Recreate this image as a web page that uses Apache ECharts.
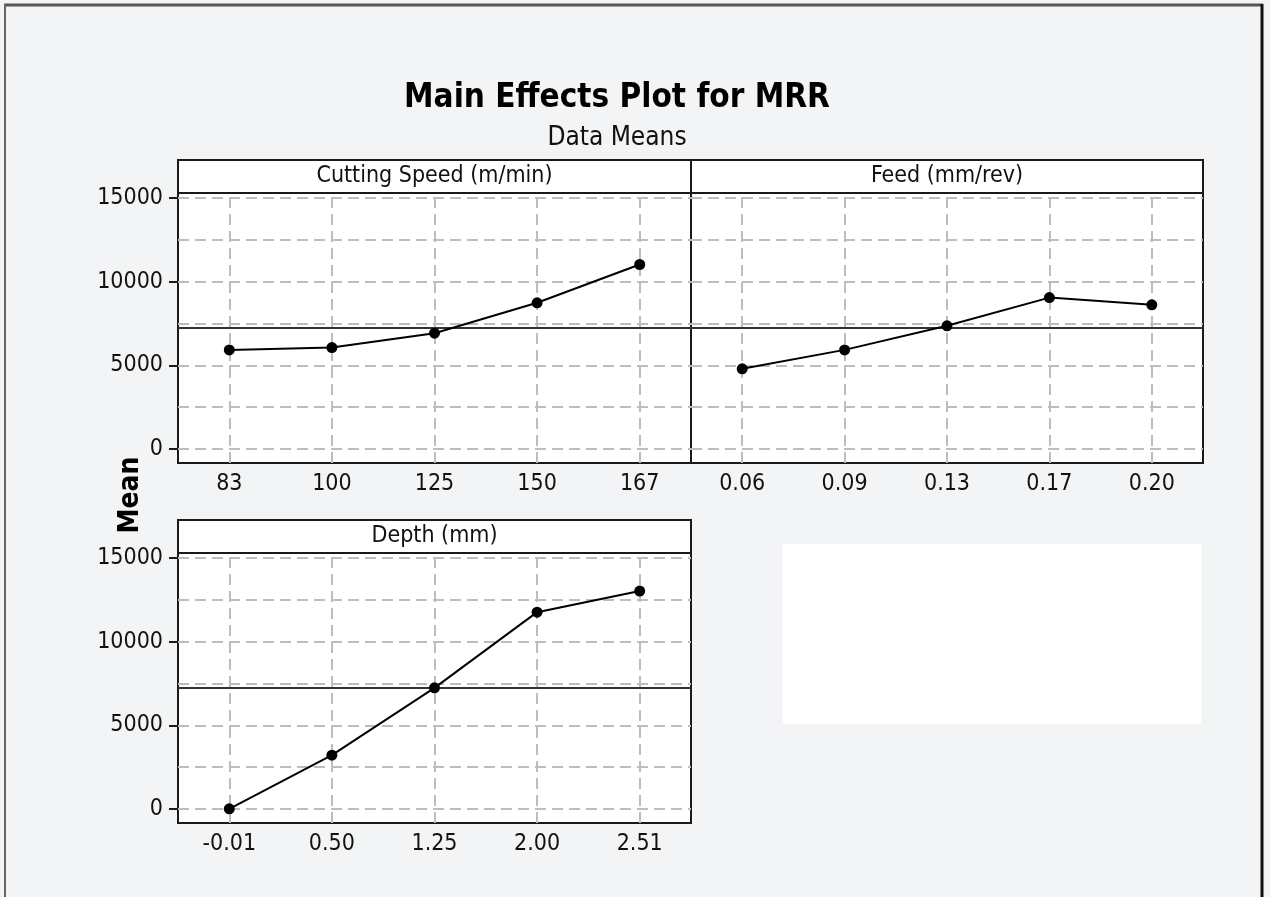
<!DOCTYPE html>
<html lang="en">
<head>
    <meta charset="UTF-8">
    <title>Main Effects Plot for MRR</title>
    <script src="https://cdn.jsdelivr.net/npm/echarts@6/dist/echarts.min.js"></script>
    <style>
      body { margin: 0; background: #f3f4f6; }
    </style>
</head>
<body>
    <div id="main" style="width: 1270px; height: 897px"></div>
    <script type="text/javascript">

      // factor levels (tick labels on each x axis)
      const speedLevels = ["83", "100", "125", "150", "167"];
      const feedLevels = ["0.06", "0.09", "0.13", "0.17", "0.20"];
      const depthLevels = ["-0.01", "0.50", "1.25", "2.00", "2.51"];

      // mean MRR at each level
      const speedMeans = [5920, 6060, 6920, 8740, 11030];
      const feedMeans = [4790, 5920, 7360, 9050, 8620];
      const depthMeans = [0, 3210, 7240, 11770, 13030];

      const grandMean = 7220;

      // y axis
      const yLabels = [0, 5000, 10000, 15000];
      const yGrid = [0, 2500, 5000, 7500, 10000, 12500, 15000];
      const yMin = -850, yMax = 15310;

      const font = "'DejaVu Sans Condensed', 'DejaVu Sans', sans-serif";

      const panels = [
        { name: "Cutting Speed (m/min)", levels: speedLevels, means: speedMeans, left: 178, top: 193, width: 513, showY: true },
        { name: "Feed (mm/rev)", levels: feedLevels, means: feedMeans, left: 691, top: 193, width: 512, showY: false },
        { name: "Depth (mm)", levels: depthLevels, means: depthMeans, left: 178, top: 553, width: 513, showY: true },
      ];
      const plotH = 270, headH = 33;

      let myChart = echarts.init(document.getElementById("main"));

      let grids = [], xAxes = [], yAxes = [], series = [], graphics = [];
      let titles = [{
        text: "Main Effects Plot for MRR",
        subtext: "Data Means",
        left: 617, top: 82, textAlign: "center", padding: 0, itemGap: 10,
        textStyle: { fontFamily: font, fontSize: 33, fontWeight: "bold", color: "#000" },
        subtextStyle: { fontFamily: font, fontSize: 26, color: "#111" },
      }];

      panels.forEach((p, i) => {
        grids.push({
          left: p.left, top: p.top, width: p.width, height: plotH,
          show: true, backgroundColor: "#fff", borderColor: "#1a1a1a", borderWidth: 2,
        });
        xAxes.push({
          type: "category", gridIndex: i, data: p.levels, boundaryGap: true,
          axisLine: { onZero: false, lineStyle: { color: "#1a1a1a", width: 2 } },
          axisTick: { alignWithLabel: true, length: 9, lineStyle: { color: "#1a1a1a", width: 2 } },
          axisLabel: { fontFamily: font, fontSize: 23, color: "#111", margin: 10 },
          splitLine: { show: false },
        });
        yAxes.push({
          type: "value", gridIndex: i, min: yMin, max: yMax,
          axisLine: { show: true, lineStyle: { color: "#1a1a1a", width: 2 } },
          axisTick: { show: p.showY, customValues: yLabels, length: 9, lineStyle: { color: "#1a1a1a", width: 2 } },
          axisLabel: {
            show: p.showY, customValues: yLabels, fontFamily: font, fontSize: 23, color: "#111", margin: 15,
            formatter: v => String(v),
          },
          splitLine: { show: false },
        });
        // dashed reference grid
        series.push({
          type: "line", xAxisIndex: i, yAxisIndex: i, data: [], z: 1, silent: true,
          markLine: {
            z: 1, silent: true, symbol: ["none", "none"], label: { show: false },
            lineStyle: { type: [11, 6], color: "#bdbdbd", width: 2 },
            emphasis: { disabled: true },
            data: yGrid.map(v => ({ yAxis: v })).concat(p.levels.map(c => ({ xAxis: c }))),
          },
        });
        // level means
        series.push({
          type: "line", xAxisIndex: i, yAxisIndex: i, data: p.means, z: 4,
          symbol: "circle", symbolSize: 11,
          itemStyle: { color: "#000", borderWidth: 0 },
          lineStyle: { color: "#000", width: 2 },
          markLine: {
            z: 2, silent: true, symbol: ["none", "none"], label: { show: false },
            lineStyle: { type: "solid", color: "#333", width: 2 },
            emphasis: { disabled: true },
            data: [{ yAxis: grandMean }],
          },
        });
        // panel header strip
        graphics.push({
          type: "rect", shape: { x: p.left, y: p.top - headH, width: p.width, height: headH },
          style: { fill: "#fff", stroke: "#1a1a1a", lineWidth: 2 }, z: 10,
        });
        titles.push({
          text: p.name, left: p.left + p.width / 2, top: p.top - headH + 5, textAlign: "center", padding: 0,
          textStyle: { fontFamily: font, fontSize: 23, fontWeight: "normal", color: "#111" }, z: 12,
        });
      });

      // blank legend area
      graphics.push({ type: "rect", shape: { x: 783, y: 544, width: 418, height: 180 }, style: { fill: "#fff" } });
      // y axis title
      graphics.push({
        type: "text", x: 131, y: 495, rotation: Math.PI / 2,
        style: { text: "Mean", font: "bold 28px " + font, fill: "#000", align: "center", verticalAlign: "middle" },
      });
      // outer frame
      graphics.push({ type: "line", shape: { x1: 4, y1: 5, x2: 1263, y2: 5 }, style: { stroke: "#555", lineWidth: 3 } });
      graphics.push({ type: "line", shape: { x1: 5, y1: 4, x2: 5, y2: 897 }, style: { stroke: "#666", lineWidth: 2 } });
      graphics.push({ type: "line", shape: { x1: 1262, y1: 4, x2: 1262, y2: 897 }, style: { stroke: "#111", lineWidth: 3 } });

      let options = {
        backgroundColor: "#f3f4f6",
        animation: false,
        title: titles,
        grid: grids,
        xAxis: xAxes,
        yAxis: yAxes,
        series: series,
        graphic: graphics,
      };
      myChart.setOption(options);

    </script>
</body>
</html>
